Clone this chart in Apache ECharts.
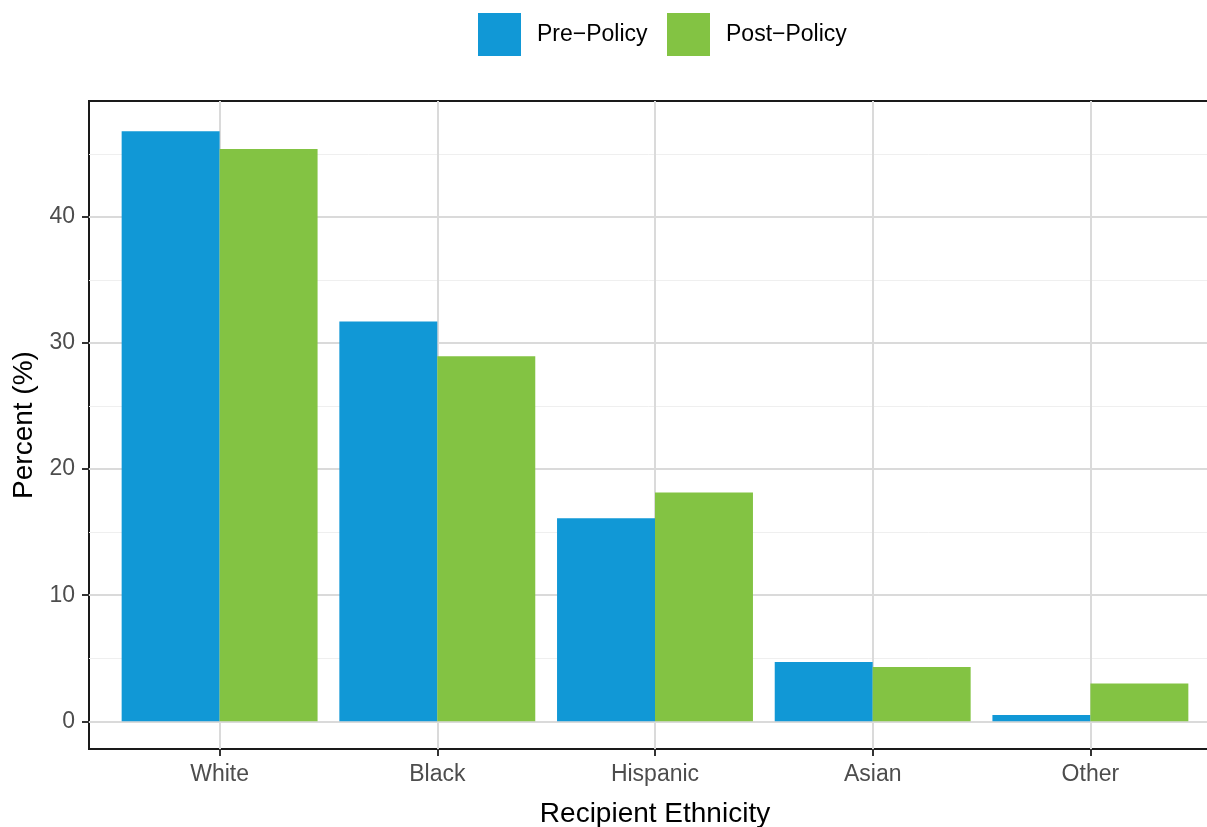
<!DOCTYPE html>
<html>
<head>
<meta charset="utf-8">
<script src="https://cdn.jsdelivr.net/npm/echarts@6/dist/echarts.min.js"></script>
<style>
html,body{margin:0;padding:0;background:#fff;}
#chart{width:1207px;height:827px;}
</style>
</head>
<body>
<div id="chart"></div>
<script>
const categories = ['White', 'Black', 'Hispanic', 'Asian', 'Other'];
const seriesNames = ['Pre\u2212Policy', 'Post\u2212Policy'];
const preValues = [46.8, 31.7, 16.1, 4.7, 0.5];
const postValues = [45.4, 28.95, 18.15, 4.3, 3.0];
const yMajorTicks = [0, 10, 20, 30, 40];
const yMinorTicks = [5, 15, 25, 35, 45];
const xTicks = [0, 1, 2, 3, 4];

const FONT = 'Liberation Sans, Arial, Helvetica, sans-serif';
const chart = echarts.init(document.getElementById('chart'), null, {renderer: 'canvas'});

const toPairs = arr => arr.map((v, i) => [i, v]);

chart.setOption({
  animation: false,
  backgroundColor: '#ffffff',
  textStyle: {fontFamily: FONT},
  legend: [
    {
      data: [seriesNames[0]], left: 478, top: 13, padding: 0,
      itemWidth: 43, itemHeight: 43, icon: 'rect',
      textStyle: {fontSize: 23, color: '#000', fontFamily: FONT, padding: [6, 0, 0, 11]}
    },
    {
      data: [seriesNames[1]], left: 667, top: 13, padding: 0,
      itemWidth: 43, itemHeight: 43, icon: 'rect',
      textStyle: {fontSize: 23, color: '#000', fontFamily: FONT, padding: [6, 0, 0, 11]}
    }
  ],
  grid: {
    left: 89, top: 101, width: 1132, height: 648,
    show: true, borderColor: '#1a1a1a', borderWidth: 2, backgroundColor: 'transparent',
    containLabel: false, outerBoundsMode: 'none'
  },
  xAxis: {
    type: 'value', min: -0.6, max: 4.6,
    name: 'Recipient Ethnicity', nameLocation: 'middle', nameGap: 51,
    nameTextStyle: {fontSize: 28, color: '#000', fontFamily: FONT},
    axisLine: {show: false, onZero: false},
    axisTick: {show: true, length: 7, customValues: xTicks, lineStyle: {color: '#333', width: 2}},
    axisLabel: {
      customValues: xTicks, margin: 14, fontSize: 23, color: '#4d4d4d', fontFamily: FONT,
      formatter: v => categories[Math.round(v)] || ''
    },
    splitLine: {show: true, lineStyle: {color: '#dadada', width: 2}}
  },
  yAxis: [
    {
      type: 'value', min: -2.2, max: 49.2,
      name: 'Percent (%)', nameLocation: 'middle', nameGap: 48,
      nameTextStyle: {fontSize: 28, color: '#000', fontFamily: FONT},
      axisLine: {show: false, onZero: false},
      axisTick: {show: true, length: 7, customValues: yMajorTicks, lineStyle: {color: '#333', width: 2}},
      axisLabel: {customValues: yMajorTicks, margin: 14, fontSize: 23, color: '#4d4d4d', fontFamily: FONT},
      splitLine: {show: true, lineStyle: {color: '#dadada', width: 2}},
      z: 1
    },
    {
      type: 'value', min: -2.2, max: 49.2, position: 'left',
      axisLine: {show: false, onZero: false},
      axisTick: {show: false, customValues: yMinorTicks},
      axisLabel: {show: false, customValues: yMinorTicks},
      splitLine: {show: true, lineStyle: {color: '#efefef', width: 1}},
      z: 0
    }
  ],
  series: [
    {
      name: seriesNames[0], type: 'bar', data: toPairs(preValues),
      itemStyle: {color: '#1198d6'}, barGap: '0%', barCategoryGap: '10%', z: 3
    },
    {
      name: seriesNames[1], type: 'bar', data: toPairs(postValues),
      itemStyle: {color: '#83c343'}, barGap: '0%', barCategoryGap: '10%', z: 3
    }
  ]
});
</script>
</body>
</html>
